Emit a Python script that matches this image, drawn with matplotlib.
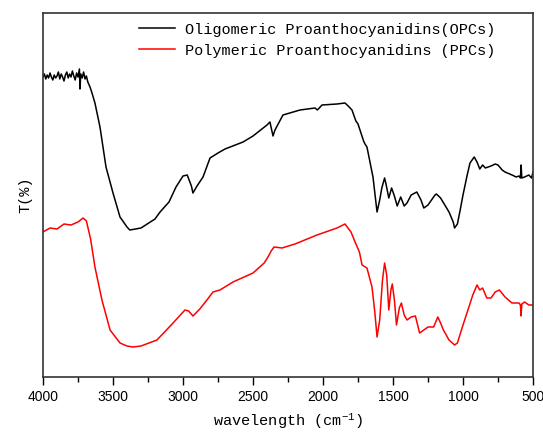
import matplotlib
matplotlib.use("Agg")
import matplotlib.pyplot as plt
from matplotlib.ticker import MultipleLocator

plt.rcParams["mathtext.fontset"] = "custom"
plt.rcParams["mathtext.rm"] = "Liberation Mono"
plt.rcParams["mathtext.default"] = "rm"

# FTIR spectra, wavenumber (cm-1) vs transmittance (arbitrary units, offset)
opc_wn = [4000, 3990, 3980, 3970, 3960, 3950, 3940, 3930, 3920, 3910, 3900,
          3890, 3880, 3870, 3860, 3850, 3840, 3830, 3820, 3810, 3800, 3790,
          3780, 3770, 3760, 3750, 3740, 3736, 3730, 3720, 3710, 3700, 3690,
          3680, 3664, 3650, 3629, 3593, 3550, 3500, 3450, 3400, 3380, 3300,
          3200, 3164, 3100, 3050, 3000, 2970, 2940, 2929, 2900, 2857, 2807,
          2750, 2700, 2571, 2500, 2400, 2379, 2357, 2343, 2320, 2286, 2164,
          2057, 2040, 2007, 1900, 1843, 1820, 1793, 1780, 1765, 1750, 1736,
          1720, 1710, 1700, 1686, 1643, 1614, 1595, 1580, 1560, 1550, 1530,
          1510, 1490, 1470, 1445, 1420, 1400, 1370, 1330, 1300, 1280, 1250,
          1200, 1190, 1160, 1130, 1100, 1070, 1060, 1040, 1020, 1000, 970,
          950, 920, 900, 880, 860, 840, 800, 770, 750, 720, 700, 650, 620,
          600, 590, 585, 580, 560, 530, 510, 500]
opc_t = [300, 303, 298, 302, 299, 304, 300, 297, 302, 299, 301,
         305, 298, 303, 300, 296, 302, 305, 299, 303, 300, 306,
         301, 297, 304, 300, 308, 288, 303, 299, 305, 298, 301,
         295, 290, 284, 274, 250, 210, 184, 160, 150, 147, 149,
         158, 165, 175, 190, 201, 202, 191, 184, 191, 200, 219,
         224, 228, 235, 241, 252, 255, 241, 247, 253, 262, 267,
         269, 267, 272, 273, 274, 271, 267, 262, 256, 253, 247,
         240, 236, 233, 230, 200, 165, 177, 189, 199, 193, 179,
         189, 181, 171, 180, 171, 174, 182, 185, 177, 169, 172,
         182, 183, 179, 172, 165, 155, 149, 153, 167, 182, 202,
         214, 220, 215, 208, 212, 209, 211, 213, 212, 207, 205, 202, 200,
         201, 199, 212, 199, 200, 202, 199, 205]

ppc_wn = [4000, 3950, 3900, 3850, 3800, 3750, 3714, 3690, 3660, 3629, 3579,
          3521, 3450, 3400, 3357, 3300, 3186, 3071, 2986, 2960, 2929, 2880,
          2829, 2786, 2736, 2643, 2500, 2420, 2393, 2370, 2350, 2293, 2200,
          2043, 1900, 1843, 1800, 1771, 1740, 1721, 1686, 1650, 1630, 1614,
          1595, 1575, 1560, 1545, 1530, 1515, 1505, 1490, 1475, 1455, 1440,
          1420, 1400, 1370, 1340, 1310, 1280, 1250, 1210, 1180, 1160, 1140,
          1100, 1060, 1040, 1000, 960, 930, 900, 880, 860, 830, 800, 770,
          740, 700, 650, 600, 590, 585, 580, 560, 530, 500]
ppc_t = [145, 149, 148, 153, 152, 155, 159, 156, 138, 110, 77,
         47, 34, 31, 30, 31, 37, 54, 67, 66, 61, 68,
         77, 85, 87, 95, 104, 114, 120, 126, 130, 129, 133,
         142, 149, 153, 145, 135, 125, 112, 109, 90, 65, 40,
         57, 97, 114, 102, 67, 87, 93, 77, 52,
         69, 74, 62, 57, 60, 61, 44, 47, 50, 50, 60,
         54, 47, 37, 32, 34, 52, 69, 82, 92, 87, 89, 79,
         79, 85, 87, 80, 74, 74, 72, 61, 73, 75, 72, 72]

labels = ["Oligomeric Proanthocyanidins(OPCs)",
          "Polymeric Proanthocyanidins (PPCs)"]

fig = plt.figure(figsize=(5.43, 4.36), dpi=100)
ax = fig.add_axes([43 / 543, 1 - 377 / 436, 490 / 543, 364 / 436])

ax.plot(opc_wn, opc_t, color="black", lw=1.1, label=labels[0])
ax.plot(ppc_wn, ppc_t, color="red", lw=1.1, label=labels[1])

ax.set_xlim(4000, 500)
ax.set_ylim(0, 364)
ax.xaxis.set_major_locator(MultipleLocator(500))
ax.xaxis.set_minor_locator(MultipleLocator(250))
ax.tick_params(axis="x", which="major", direction="out", length=6, width=1,
               labelsize=10, pad=3)
ax.tick_params(axis="x", which="minor", direction="out", length=3.5, width=1)
ax.set_yticks([])
for lab in ax.get_xticklabels():
    lab.set_family("Liberation Sans")
for sp in ax.spines.values():
    sp.set_color("#333333")
    sp.set_linewidth(1.2)

ax.set_xlabel("wavelength (cm$^{-1}$)", family="Liberation Mono", fontsize=11,
              labelpad=6)
ax.set_ylabel("T(%)", family="Liberation Mono", fontsize=11, labelpad=8)

ax.legend(loc="upper left", bbox_to_anchor=(131 / 543, 1 - 15 / 436),
          bbox_transform=fig.transFigure, frameon=False, borderpad=0,
          prop={"family": "Liberation Mono", "size": 11},
          handlelength=2.4, handletextpad=0.65, labelspacing=0.45)

fig.savefig("out.png", dpi=100)
